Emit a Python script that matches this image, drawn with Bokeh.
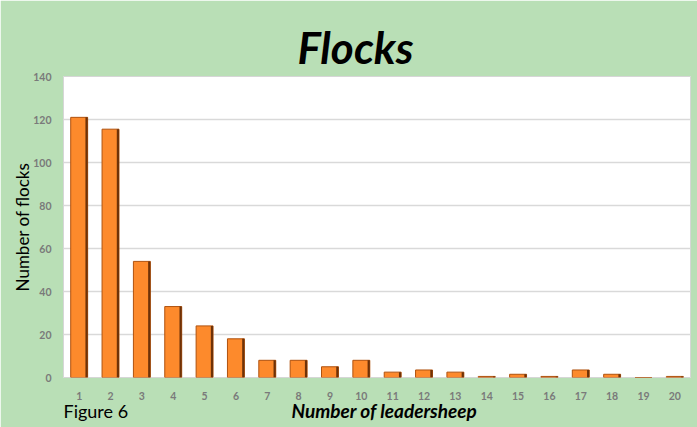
from bokeh.plotting import figure
from bokeh.models import FactorRange, FixedTicker, Title
from bokeh.transform import dodge
from bokeh.embed import file_html
from bokeh.resources import INLINE

categories = [str(i) for i in range(1, 21)]
flocks = [121, 115.5, 54, 33, 24, 18, 8, 8, 5, 8, 2.5, 3.5, 2.5, 0.5, 1.5, 0.5, 3.5, 1.5, 0, 0.5]
y_ticks = [0, 20, 40, 60, 80, 100, 120, 140]

GREEN = "#b9dfb6"
FONT = "Lato"

p = figure(x_range=FactorRange(*categories), y_range=(0, 140),
           frame_width=627, frame_height=301,
           min_border_left=63, min_border_right=7, min_border_top=76, min_border_bottom=50,
           output_backend="svg", toolbar_location=None,
           background_fill_color="white", border_fill_color=GREEN)
p.outline_line_color = "#d6d6d6"

src = dict(cat=categories, val=flocks)
p.vbar(x="cat", top="val", width=0.54, source=src,
       fill_color="#fd8a2c", line_color="#b0520e", line_width=1)
p.vbar(x=dodge("cat", 0.235, range=p.x_range), top="val", width=0.07, source=src,
       fill_color="#6e3208", line_color=None)

p.yaxis.ticker = FixedTicker(ticks=y_ticks)
for ax in (p.xaxis[0], p.yaxis[0]):
    ax.axis_line_color = None
    ax.major_tick_line_color = None
    ax.minor_tick_line_color = None
    ax.major_label_text_color = "#7a7a7a"
    ax.major_label_text_font = FONT
    ax.major_label_text_font_style = "bold"
    ax.major_label_text_font_size = "10.5px"
p.yaxis.major_label_standoff = 6
p.xaxis.major_label_standoff = 8
p.yaxis.axis_label = "Number of flocks"
p.yaxis.axis_label_text_font = FONT
p.yaxis.axis_label_text_font_size = "17px"
p.yaxis.axis_label_text_font_style = "normal"
p.yaxis.axis_label_text_color = "black"
p.yaxis.axis_label_standoff = -3
p.xgrid.grid_line_color = None
p.ygrid.grid_line_color = "#d9d9d9"
p.ygrid.grid_line_width = 1.5

p.add_layout(Title(text="Flocks", align="left", offset=234, standoff=7,
                   text_font=FONT, text_font_style="bold italic", text_font_size="44px",
                   text_color="black"), "above")
p.add_layout(Title(text="Number of leadersheep", align="left", offset=228, standoff=-38,
                   vertical_align="bottom",
                   text_font=FONT, text_font_style="bold italic", text_font_size="19px",
                   text_color="black"), "below")
p.add_layout(Title(text="Figure 6", align="left", offset=0, standoff=-38,
                   vertical_align="bottom",
                   text_font=FONT, text_font_style="normal", text_font_size="18px",
                   text_color="black"), "below")

open("out.html", "w").write(file_html(p, INLINE))
